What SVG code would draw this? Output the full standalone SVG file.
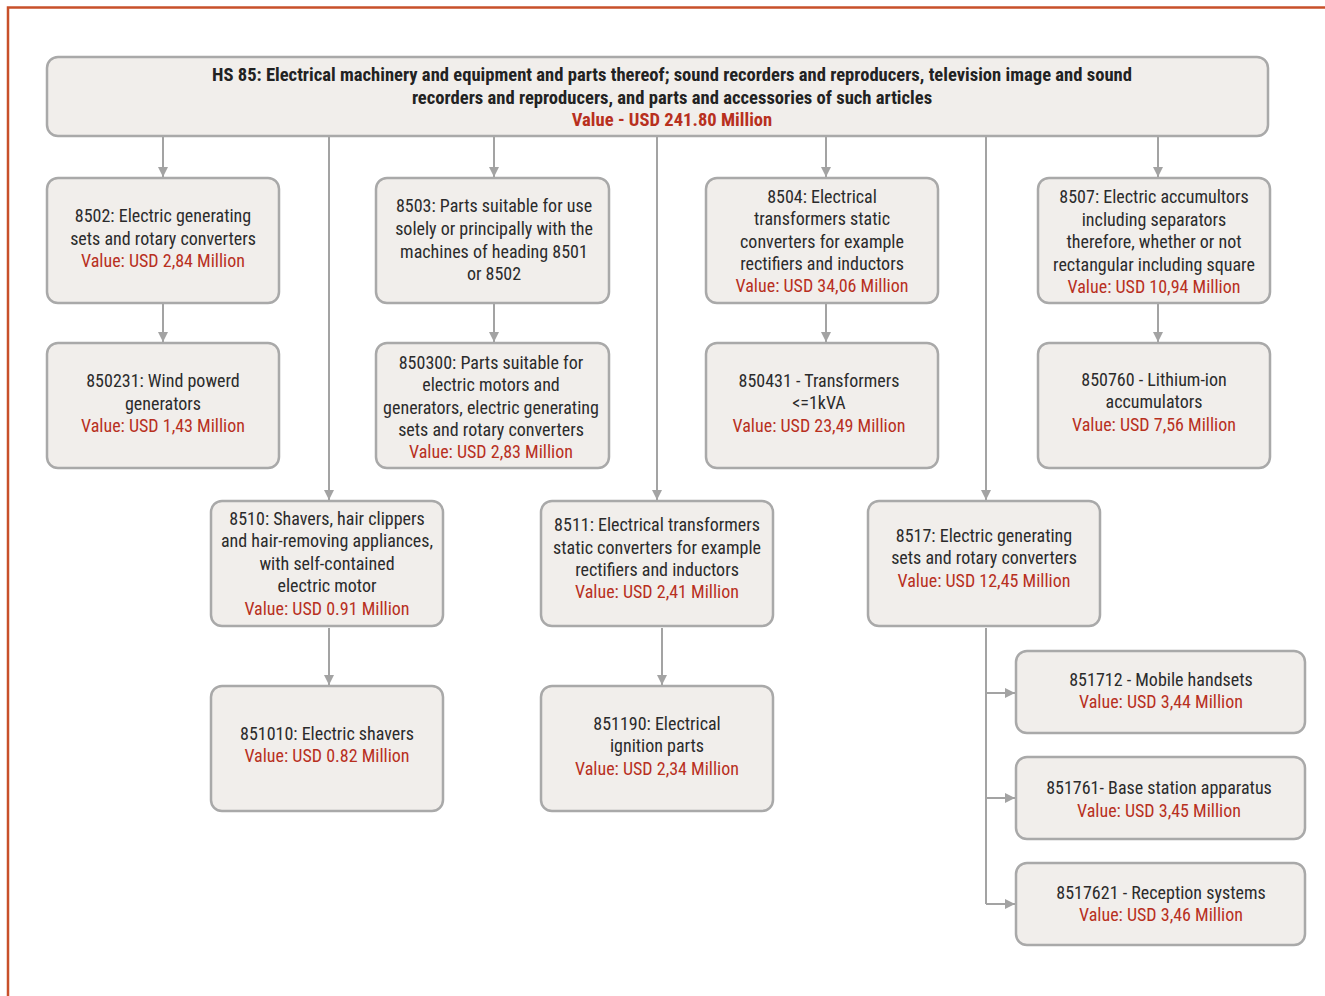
<svg xmlns="http://www.w3.org/2000/svg" width="1325" height="996" viewBox="0 0 1325 996">
<style>
.bx{fill:#F1EEEB;stroke:#A9A9A9;stroke-width:2.5}
text{font-family:"Liberation Sans Narrow","Arial Narrow","Roboto Condensed","Liberation Sans",sans-serif;font-size:18px;fill:#2B2B2B;text-anchor:middle;transform:translateY(1px)}
.t{font-weight:bold;fill:#222;font-size:18.6px}
.v{fill:#B8301E}
.tv{font-weight:bold;fill:#B8301E;font-size:18.6px}
.c{stroke:#A3A3A3;stroke-width:2;fill:none}
</style>
<defs>
<marker id="ah" markerUnits="userSpaceOnUse" markerWidth="12" markerHeight="10" refX="10" refY="5" orient="auto">
<path d="M0,0 L10,5 L0,10 Z" fill="#A3A3A3"/>
</marker>
</defs>
<rect width="1325" height="996" fill="#fff"/>
<path d="M8,996 V7.5 H1325" fill="none" stroke="#C8502A" stroke-width="2.5"/>
<g id="connectors">
<path class="c" d="M163,137 V177" marker-end="url(#ah)"/>
<path class="c" d="M494,137 V177" marker-end="url(#ah)"/>
<path class="c" d="M826,137 V177" marker-end="url(#ah)"/>
<path class="c" d="M1158,137 V177" marker-end="url(#ah)"/>
<path class="c" d="M329,137 V500" marker-end="url(#ah)"/>
<path class="c" d="M657,137 V500" marker-end="url(#ah)"/>
<path class="c" d="M986,137 V500" marker-end="url(#ah)"/>
<path class="c" d="M163,304 V342" marker-end="url(#ah)"/>
<path class="c" d="M494,304 V342" marker-end="url(#ah)"/>
<path class="c" d="M826,304 V342" marker-end="url(#ah)"/>
<path class="c" d="M1158,304 V342" marker-end="url(#ah)"/>
<path class="c" d="M329,628 V685" marker-end="url(#ah)"/>
<path class="c" d="M662,628 V685" marker-end="url(#ah)"/>
<path class="c" d="M986,628 V904"/>
<path class="c" d="M986,693 H1015" marker-end="url(#ah)"/>
<path class="c" d="M986,798 H1015" marker-end="url(#ah)"/>
<path class="c" d="M986,904 H1015" marker-end="url(#ah)"/>
</g>
<g id="hs85">
<rect class="bx" x="47" y="57" width="1221" height="79" rx="11"/>
<text class="t" x="672" y="80">HS 85: Electrical machinery and equipment and parts thereof; sound recorders and reproducers, television image and sound</text>
<text class="t" x="672" y="103">recorders and reproducers, and parts and accessories of such articles</text>
<text class="tv" x="672" y="125">Value - USD 241.80 Million</text>
</g>
<g id="n8502">
<rect class="bx" x="47" y="178" width="232" height="125" rx="11"/>
<text x="163" y="221">8502: Electric generating</text>
<text x="163" y="243.5">sets and rotary converters</text>
<text class="v" x="163" y="266">Value: USD 2,84 Million</text>
</g>
<g id="n8503">
<rect class="bx" x="376" y="178" width="233" height="125" rx="11"/>
<text x="494" y="211">8503: Parts suitable for use</text>
<text x="494" y="234">solely or principally with the</text>
<text x="494" y="257">machines of heading 8501</text>
<text x="494" y="279">or 8502</text>
</g>
<g id="n8504">
<rect class="bx" x="706" y="178" width="232" height="125" rx="11"/>
<text x="822" y="202">8504: Electrical</text>
<text x="822" y="224">transformers static</text>
<text x="822" y="247">converters for example</text>
<text x="822" y="269">rectifiers and inductors</text>
<text class="v" x="822" y="291">Value: USD 34,06 Million</text>
</g>
<g id="n8507">
<rect class="bx" x="1038" y="178" width="232" height="125" rx="11"/>
<text x="1154" y="202">8507: Electric accumultors</text>
<text x="1154" y="225">including separators</text>
<text x="1154" y="247">therefore, whether or not</text>
<text x="1154" y="270">rectangular including square</text>
<text class="v" x="1154" y="292">Value: USD 10,94 Million</text>
</g>
<g id="n850231">
<rect class="bx" x="47" y="343" width="232" height="125" rx="11"/>
<text x="163" y="386">850231: Wind powerd</text>
<text x="163" y="409">generators</text>
<text class="v" x="163" y="431">Value: USD 1,43 Million</text>
</g>
<g id="n850300">
<rect class="bx" x="376" y="343" width="233" height="125" rx="11"/>
<text x="491" y="368">850300: Parts suitable for</text>
<text x="491" y="390">electric motors and</text>
<text x="491" y="413">generators, electric generating</text>
<text x="491" y="435">sets and rotary converters</text>
<text class="v" x="491" y="457">Value: USD 2,83 Million</text>
</g>
<g id="n850431">
<rect class="bx" x="706" y="343" width="232" height="125" rx="11"/>
<text x="819" y="386">850431 - Transformers</text>
<text x="819" y="408">&lt;=1kVA</text>
<text class="v" x="819" y="431">Value: USD 23,49 Million</text>
</g>
<g id="n850760">
<rect class="bx" x="1038" y="343" width="232" height="125" rx="11"/>
<text x="1154" y="385">850760 - Lithium-ion</text>
<text x="1154" y="407">accumulators</text>
<text class="v" x="1154" y="430">Value: USD 7,56 Million</text>
</g>
<g id="n8510">
<rect class="bx" x="211" y="501" width="232" height="125" rx="11"/>
<text x="327" y="524">8510: Shavers, hair clippers</text>
<text x="327" y="546">and hair-removing appliances,</text>
<text x="327" y="569">with self-contained</text>
<text x="327" y="591">electric motor</text>
<text class="v" x="327" y="614">Value: USD 0.91 Million</text>
</g>
<g id="n8511">
<rect class="bx" x="541" y="501" width="232" height="125" rx="11"/>
<text x="657" y="530">8511: Electrical transformers</text>
<text x="657" y="553">static converters for example</text>
<text x="657" y="575">rectifiers and inductors</text>
<text class="v" x="657" y="597">Value: USD 2,41 Million</text>
</g>
<g id="n8517">
<rect class="bx" x="868" y="501" width="232" height="125" rx="11"/>
<text x="984" y="541">8517: Electric generating</text>
<text x="984" y="563">sets and rotary converters</text>
<text class="v" x="984" y="586">Value: USD 12,45 Million</text>
</g>
<g id="n851010">
<rect class="bx" x="211" y="686" width="232" height="125" rx="11"/>
<text x="327" y="739">851010: Electric shavers</text>
<text class="v" x="327" y="761">Value: USD 0.82 Million</text>
</g>
<g id="n851190">
<rect class="bx" x="541" y="686" width="232" height="125" rx="11"/>
<text x="657" y="729">851190: Electrical</text>
<text x="657" y="751">ignition parts</text>
<text class="v" x="657" y="774">Value: USD 2,34 Million</text>
</g>
<g id="n851712">
<rect class="bx" x="1016" y="651" width="289" height="82" rx="11"/>
<text x="1161" y="685">851712 - Mobile handsets</text>
<text class="v" x="1161" y="707">Value: USD 3,44 Million</text>
</g>
<g id="n851761">
<rect class="bx" x="1016" y="757" width="289" height="82" rx="11"/>
<text x="1159" y="793">851761- Base station apparatus</text>
<text class="v" x="1159" y="816">Value: USD 3,45 Million</text>
</g>
<g id="n8517621">
<rect class="bx" x="1016" y="863" width="289" height="82" rx="11"/>
<text x="1161" y="898">8517621 - Reception systems</text>
<text class="v" x="1161" y="920">Value: USD 3,46 Million</text>
</g>
</svg>
